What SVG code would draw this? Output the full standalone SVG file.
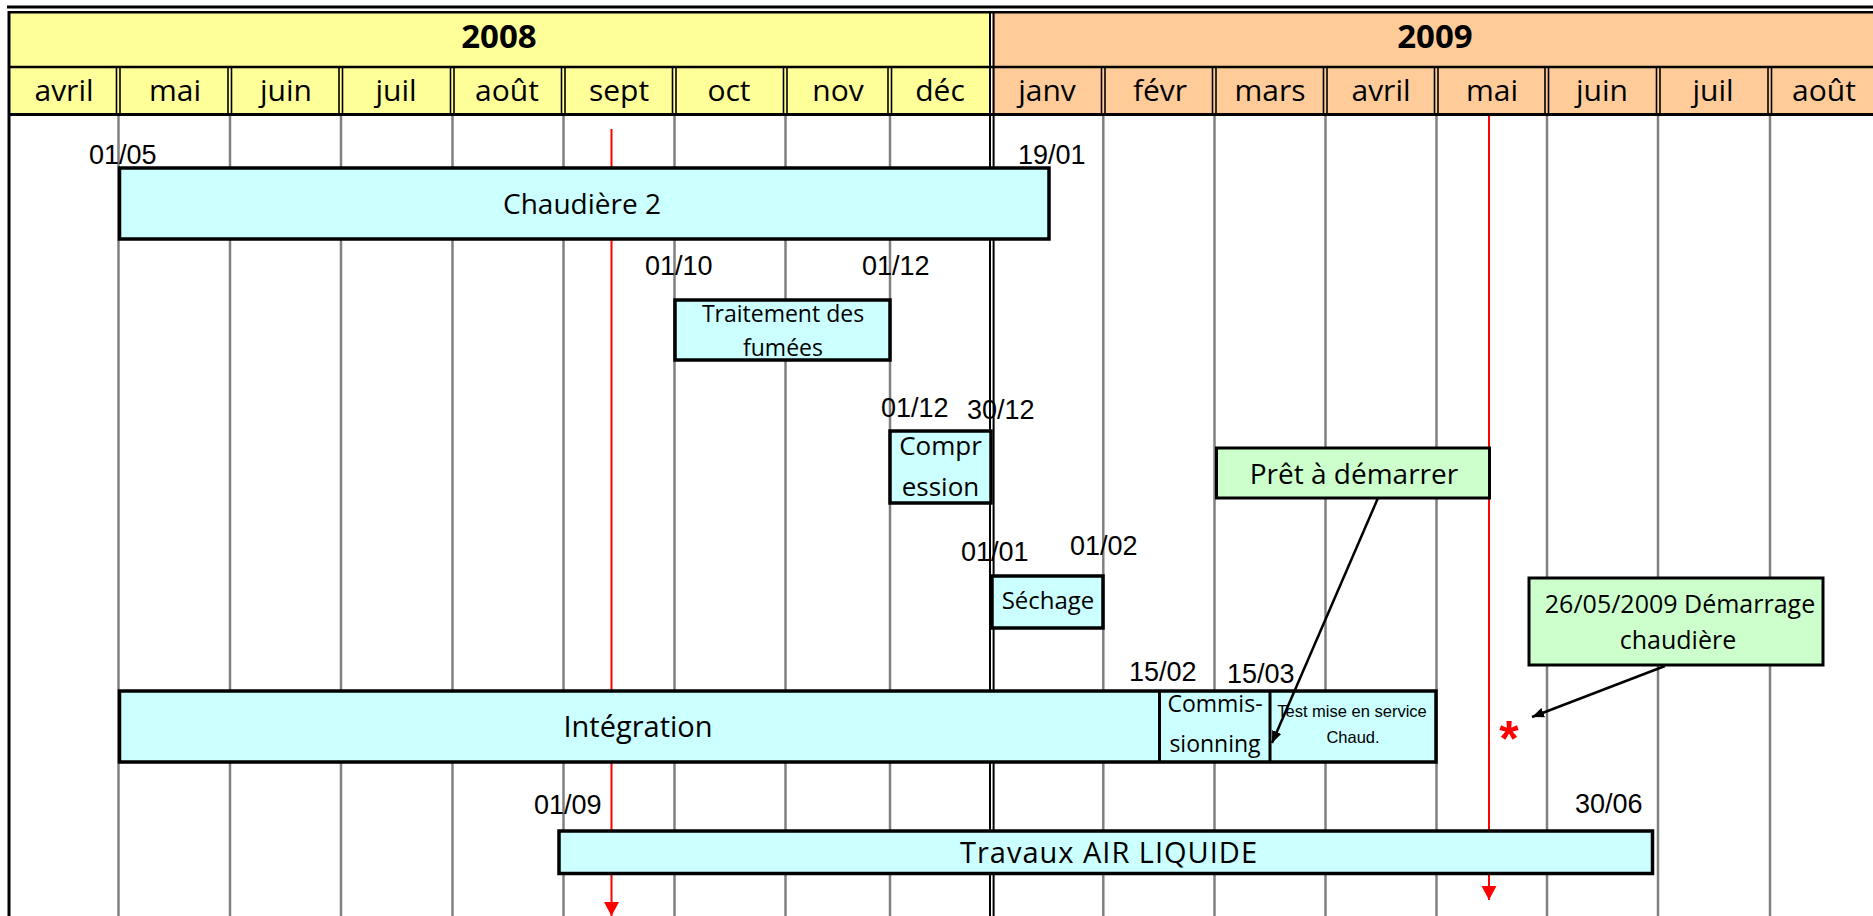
<svg xmlns="http://www.w3.org/2000/svg" width="1873" height="916" viewBox="0 0 1873 916">
<style>
  .grid{stroke:#808080;stroke-width:2.5}
  .blk{stroke:#000}
  .sep{stroke:#000;stroke-width:1.6}
  .red{stroke:#FF0000;stroke-width:2}
  .bar{fill:#CCFFFF;stroke:#000;stroke-width:3.5}
  .note{fill:#CCFFCC;stroke:#000;stroke-width:3}
  .cs{font-family:"Open Sans","DejaVu Sans",sans-serif;fill:#000;text-anchor:middle}
  .mo{font-size:30px}
  .yr{font-size:33px;font-weight:bold}
  .dt{font-family:"Liberation Sans",Arial,sans-serif;font-size:27px;fill:#000}
  .ar{font-family:"Liberation Sans",Arial,sans-serif;font-size:16.5px;fill:#000;text-anchor:middle}
  .conn{stroke:#000;stroke-width:2.5;fill:none}
</style>
<defs>
  <marker id="redhead" markerUnits="userSpaceOnUse" markerWidth="16" markerHeight="16" refX="14" refY="7.5" orient="auto">
    <path d="M0,0 L14,7.5 L0,15 Z" fill="#FF0000"/>
  </marker>
  <marker id="blkhead" markerUnits="userSpaceOnUse" markerWidth="14" markerHeight="12" refX="12" refY="5" orient="auto">
    <path d="M0,0 L12,5 L0,10 Z" fill="#000"/>
  </marker>
</defs>
<rect x="0" y="0" width="1873" height="916" fill="#FFFFFF"/>

<g id="header">
  <rect x="9" y="12" width="982" height="103" fill="#FFFF99"/>
  <rect x="992" y="12" width="890" height="103" fill="#FFCC99"/>
  <line class="blk" x1="7" y1="7" x2="1873" y2="7" stroke-width="3"/>
  <line class="blk" x1="8" y1="12.3" x2="1873" y2="12.3" stroke-width="2.4"/>
  <line class="blk" x1="8" y1="67" x2="1873" y2="67" stroke-width="2.5"/>
  <line class="blk" x1="8" y1="114.5" x2="1873" y2="114.5" stroke-width="3"/>
  <g>
    <line class="sep" x1="116.5" y1="67" x2="116.5" y2="115"/><line class="sep" x1="120" y1="67" x2="120" y2="115"/>
    <line class="sep" x1="228" y1="67" x2="228" y2="115"/><line class="sep" x1="231.5" y1="67" x2="231.5" y2="115"/>
    <line class="sep" x1="339" y1="67" x2="339" y2="115"/><line class="sep" x1="342.5" y1="67" x2="342.5" y2="115"/>
    <line class="sep" x1="450.5" y1="67" x2="450.5" y2="115"/><line class="sep" x1="454" y1="67" x2="454" y2="115"/>
    <line class="sep" x1="561.5" y1="67" x2="561.5" y2="115"/><line class="sep" x1="565" y1="67" x2="565" y2="115"/>
    <line class="sep" x1="672.5" y1="67" x2="672.5" y2="115"/><line class="sep" x1="676" y1="67" x2="676" y2="115"/>
    <line class="sep" x1="783.5" y1="67" x2="783.5" y2="115"/><line class="sep" x1="787" y1="67" x2="787" y2="115"/>
    <line class="sep" x1="888" y1="67" x2="888" y2="115"/><line class="sep" x1="891.5" y1="67" x2="891.5" y2="115"/>
    <line class="sep" x1="1101.5" y1="67" x2="1101.5" y2="115"/><line class="sep" x1="1105" y1="67" x2="1105" y2="115"/>
    <line class="sep" x1="1212.5" y1="67" x2="1212.5" y2="115"/><line class="sep" x1="1216" y1="67" x2="1216" y2="115"/>
    <line class="sep" x1="1323.5" y1="67" x2="1323.5" y2="115"/><line class="sep" x1="1327" y1="67" x2="1327" y2="115"/>
    <line class="sep" x1="1434.5" y1="67" x2="1434.5" y2="115"/><line class="sep" x1="1438" y1="67" x2="1438" y2="115"/>
    <line class="sep" x1="1545" y1="67" x2="1545" y2="115"/><line class="sep" x1="1548.5" y1="67" x2="1548.5" y2="115"/>
    <line class="sep" x1="1656.5" y1="67" x2="1656.5" y2="115"/><line class="sep" x1="1660" y1="67" x2="1660" y2="115"/>
    <line class="sep" x1="1768" y1="67" x2="1768" y2="115"/><line class="sep" x1="1771.5" y1="67" x2="1771.5" y2="115"/>
  </g>
  <text class="cs yr" x="499" y="48">2008</text>
  <text class="cs yr" x="1435" y="48">2009</text>
  <text class="cs mo" x="64" y="101">avril</text>
  <text class="cs mo" x="175" y="101">mai</text>
  <text class="cs mo" x="286" y="101">juin</text>
  <text class="cs mo" x="396" y="101">juil</text>
  <text class="cs mo" x="507" y="101">août</text>
  <text class="cs mo" x="619" y="101">sept</text>
  <text class="cs mo" x="729" y="101">oct</text>
  <text class="cs mo" x="838" y="101">nov</text>
  <text class="cs mo" x="940" y="101">déc</text>
  <text class="cs mo" x="1047" y="101">janv</text>
  <text class="cs mo" x="1160" y="101">févr</text>
  <text class="cs mo" x="1270" y="101">mars</text>
  <text class="cs mo" x="1381" y="101">avril</text>
  <text class="cs mo" x="1492" y="101">mai</text>
  <text class="cs mo" x="1602" y="101">juin</text>
  <text class="cs mo" x="1713" y="101">juil</text>
  <text class="cs mo" x="1824" y="101">août</text>
</g>

<g id="grid">
  <line class="grid" x1="118.5" y1="116" x2="118.5" y2="916"/>
  <line class="grid" x1="230" y1="116" x2="230" y2="916"/>
  <line class="grid" x1="341" y1="116" x2="341" y2="916"/>
  <line class="grid" x1="452.5" y1="116" x2="452.5" y2="916"/>
  <line class="grid" x1="563.5" y1="116" x2="563.5" y2="916"/>
  <line class="grid" x1="674.5" y1="116" x2="674.5" y2="916"/>
  <line class="grid" x1="785.5" y1="116" x2="785.5" y2="916"/>
  <line class="grid" x1="890" y1="116" x2="890" y2="916"/>
  <line class="grid" x1="1103.3" y1="116" x2="1103.3" y2="916"/>
  <line class="grid" x1="1214.5" y1="116" x2="1214.5" y2="916"/>
  <line class="grid" x1="1325.5" y1="116" x2="1325.5" y2="916"/>
  <line class="grid" x1="1436.5" y1="116" x2="1436.5" y2="916"/>
  <line class="grid" x1="1547" y1="116" x2="1547" y2="916"/>
  <line class="grid" x1="1658" y1="116" x2="1658" y2="916"/>
  <line class="grid" x1="1770" y1="116" x2="1770" y2="916"/>
  <line class="blk" x1="9" y1="11" x2="9" y2="916" stroke-width="3"/>
  <line class="blk" x1="990" y1="11" x2="990" y2="916" stroke-width="2"/>
  <line class="blk" x1="993.6" y1="11" x2="993.6" y2="916" stroke-width="2"/>
</g>

<g id="milestones">
  <line class="red" x1="611.5" y1="129" x2="611.5" y2="916" marker-end="url(#redhead)"/>
  <line class="red" x1="1489" y1="116" x2="1489" y2="900" marker-end="url(#redhead)"/>
</g>

<g id="dates">
  <text class="dt" x="89" y="164">01/05</text>
  <text class="dt" x="1018" y="164">19/01</text>
  <text class="dt" x="645" y="275">01/10</text>
  <text class="dt" x="862" y="275">01/12</text>
  <text class="dt" x="881" y="417">01/12</text>
  <text class="dt" x="967" y="419">30/12</text>
  <text class="dt" x="961" y="561">01/01</text>
  <text class="dt" x="1070" y="555">01/02</text>
  <text class="dt" x="1129" y="681">15/02</text>
  <text class="dt" x="1227" y="683">15/03</text>
  <text class="dt" x="534" y="814">01/09</text>
  <text class="dt" x="1575" y="813">30/06</text>
</g>

<g id="chaudiere2">
  <rect class="bar" x="119.5" y="168" width="929.5" height="71"/>
  <text class="cs" x="582" y="214" font-size="28">Chaudière 2</text>
</g>
<g id="traitement-fumees">
  <rect class="bar" x="675" y="300" width="215" height="60" stroke-width="3"/>
  <text class="cs" x="783" y="322" font-size="23">Traitement des</text>
  <text class="cs" x="783" y="356" font-size="23">fumées</text>
</g>
<g id="compression">
  <rect class="bar" x="890" y="431" width="101" height="72" stroke-width="3"/>
  <text class="cs" x="940.5" y="455" font-size="26">Compr</text>
  <text class="cs" x="940.5" y="496" font-size="26">ession</text>
</g>
<g id="sechage">
  <rect class="bar" x="992" y="576" width="111" height="52" stroke-width="3"/>
  <text class="cs" x="1048" y="609" font-size="24">Séchage</text>
</g>
<g id="integration">
  <rect class="bar" x="119.5" y="691" width="1316.5" height="71"/>
  <line class="blk" x1="1159.5" y1="691" x2="1159.5" y2="762" stroke-width="3"/>
  <line class="blk" x1="1270" y1="691" x2="1270" y2="762" stroke-width="3"/>
  <text class="cs" x="638" y="737" font-size="29">Intégration</text>
</g>
<g id="commissionning">
  <text class="cs" x="1215" y="711.5" font-size="23">Commis-</text>
  <text class="cs" x="1215" y="751.5" font-size="23">sionning</text>
</g>
<g id="test-mise-en-service">
  <text class="ar" x="1352" y="716.5">Test mise en service</text>
  <text class="ar" x="1353" y="743">Chaud.</text>
</g>
<g id="travaux-air-liquide">
  <rect class="bar" x="559" y="831" width="1093.5" height="42.5" stroke-width="3"/>
  <text class="cs" x="1108.5" y="863" font-size="29" textLength="297" lengthAdjust="spacing">Travaux AIR LIQUIDE</text>
</g>
<g id="pret-a-demarrer">
  <rect class="note" x="1216.5" y="448" width="273" height="50"/>
  <text class="cs" x="1354" y="484" font-size="28">Prêt à démarrer</text>
</g>
<g id="demarrage-chaudiere">
  <rect class="note" x="1529" y="578" width="294" height="87"/>
  <text class="cs" x="1680" y="613" font-size="25">26/05/2009 Démarrage</text>
  <text class="cs" x="1678" y="649" font-size="25">chaudière</text>
</g>
<g id="asterisk">
  <text x="1509" y="756" font-family="Liberation Sans, Arial, sans-serif" font-weight="bold" font-size="50" fill="#FF0000" text-anchor="middle">*</text>
</g>

<g id="connectors">
  <line class="conn" x1="1378" y1="498" x2="1272" y2="743" marker-end="url(#blkhead)"/>
  <line class="conn" x1="1665" y1="666" x2="1532" y2="717" marker-end="url(#blkhead)"/>
</g>
</svg>
